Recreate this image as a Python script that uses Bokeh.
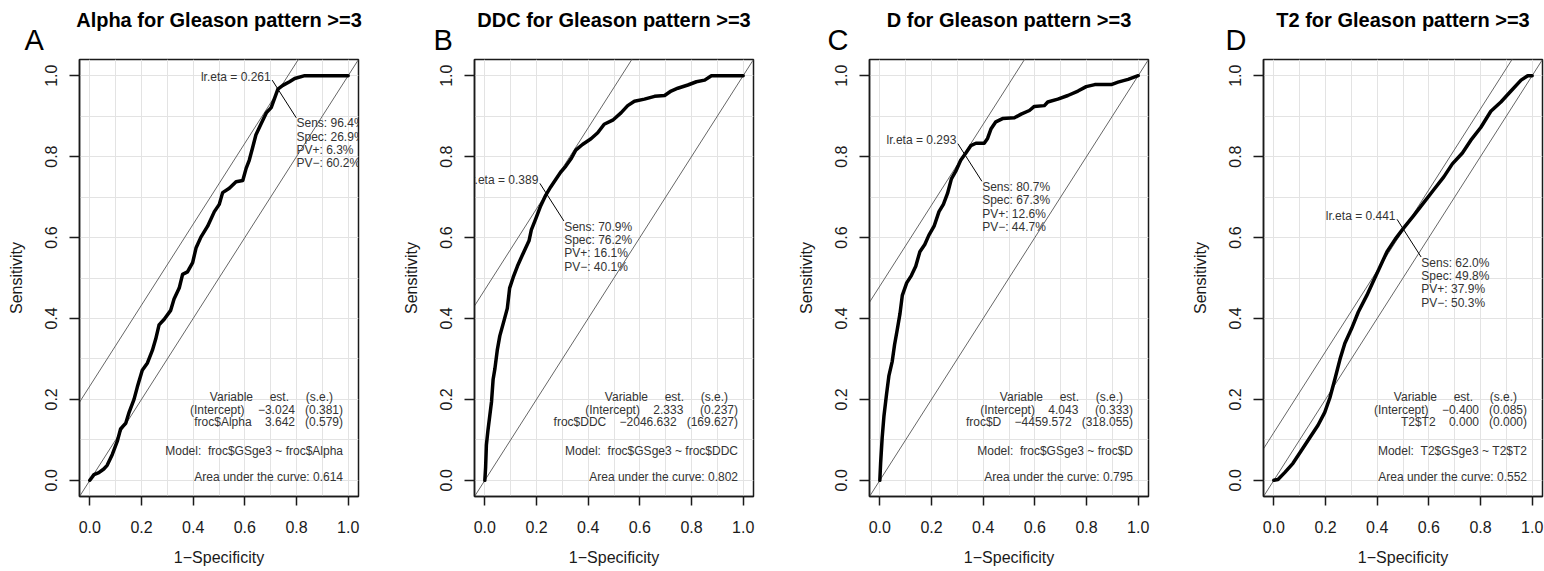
from bokeh.plotting import figure
from bokeh.layouts import row
from bokeh.models import Title, FixedTicker, NumeralTickFormatter
from bokeh.core.properties import value
from bokeh.embed import file_html
from bokeh.resources import INLINE

# ---------------- data ----------------
TITLES = ["Alpha for Gleason pattern >=3", "DDC for Gleason pattern >=3",
          "D for Gleason pattern >=3", "T2 for Gleason pattern >=3"]
LETTERS = ["A", "B", "C", "D"]

A_FPR = [0.0, 0.016, 0.035, 0.054, 0.067, 0.087, 0.106, 0.119, 0.139, 0.152, 0.171, 0.184,
         0.203, 0.223, 0.242, 0.255, 0.268, 0.288, 0.313, 0.326, 0.346, 0.359, 0.378, 0.398,
         0.411, 0.43, 0.456, 0.482, 0.501, 0.514, 0.54, 0.566, 0.592, 0.605, 0.617, 0.63,
         0.643, 0.663, 0.683, 0.702, 0.715, 0.728, 0.747, 0.773, 0.793, 0.832, 1.0]
A_TPR = [0.0, 0.014, 0.019, 0.028, 0.037, 0.064, 0.096, 0.127, 0.141, 0.168, 0.2, 0.231,
         0.272, 0.29, 0.321, 0.349, 0.384, 0.398, 0.42, 0.448, 0.475, 0.509, 0.515, 0.538,
         0.574, 0.601, 0.628, 0.664, 0.682, 0.711, 0.722, 0.738, 0.741, 0.771, 0.791, 0.822,
         0.854, 0.881, 0.908, 0.921, 0.944, 0.967, 0.976, 0.985, 0.993, 1.0, 1.0]

B_FPR = [0.0, 0.003, 0.006, 0.012, 0.019, 0.026, 0.032, 0.039, 0.048, 0.058, 0.074, 0.087,
         0.096, 0.11, 0.126, 0.145, 0.158, 0.171, 0.18, 0.197, 0.216, 0.236, 0.255, 0.275,
         0.294, 0.313, 0.333, 0.352, 0.378, 0.411, 0.437, 0.462, 0.495, 0.527, 0.553, 0.579,
         0.618, 0.657, 0.696, 0.721, 0.747, 0.786, 0.819, 0.851, 0.877, 1.0]
B_TPR = [0.0, 0.032, 0.087, 0.123, 0.159, 0.195, 0.249, 0.276, 0.321, 0.357, 0.394, 0.425,
         0.475, 0.502, 0.529, 0.556, 0.574, 0.592, 0.619, 0.646, 0.678, 0.705, 0.725, 0.744,
         0.762, 0.776, 0.794, 0.816, 0.83, 0.844, 0.859, 0.88, 0.89, 0.908, 0.926, 0.937,
         0.942, 0.949, 0.951, 0.962, 0.969, 0.977, 0.985, 0.989, 1.0, 1.0]

C_FPR = [0.0, 0.003, 0.009, 0.016, 0.026, 0.035, 0.048, 0.057, 0.067, 0.078, 0.087, 0.104,
         0.122, 0.139, 0.155, 0.174, 0.19, 0.21, 0.229, 0.246, 0.262, 0.277, 0.294, 0.313,
         0.333, 0.352, 0.372, 0.404, 0.417, 0.43, 0.449, 0.475, 0.521, 0.547, 0.579, 0.598,
         0.637, 0.65, 0.689, 0.728, 0.767, 0.799, 0.832, 0.896, 0.922, 0.961, 1.0]
C_TPR = [0.0, 0.042, 0.105, 0.159, 0.213, 0.258, 0.294, 0.335, 0.371, 0.412, 0.457, 0.488,
         0.506, 0.529, 0.565, 0.583, 0.606, 0.628, 0.664, 0.682, 0.709, 0.745, 0.764, 0.791,
         0.809, 0.827, 0.833, 0.833, 0.845, 0.868, 0.886, 0.894, 0.896, 0.905, 0.914, 0.924,
         0.926, 0.935, 0.942, 0.951, 0.962, 0.973, 0.978, 0.978, 0.984, 0.991, 1.0]

D_FPR = [0.0, 0.016, 0.042, 0.074, 0.106, 0.139, 0.171, 0.197, 0.217, 0.236, 0.256, 0.275,
         0.301, 0.327, 0.36, 0.386, 0.412, 0.438, 0.47, 0.503, 0.542, 0.581, 0.619, 0.658,
         0.691, 0.73, 0.762, 0.801, 0.84, 0.879, 0.918, 0.957, 0.983, 1.0]
D_TPR = [0.0, 0.002, 0.019, 0.042, 0.073, 0.105, 0.136, 0.168, 0.204, 0.249, 0.299, 0.339,
         0.375, 0.416, 0.457, 0.493, 0.529, 0.565, 0.596, 0.624, 0.655, 0.687, 0.718, 0.75,
         0.782, 0.809, 0.84, 0.872, 0.912, 0.935, 0.962, 0.989, 1.0, 1.0]

CURVES_FPR = [A_FPR, B_FPR, C_FPR, D_FPR]
CURVES_TPR = [A_TPR, B_TPR, C_TPR, D_TPR]

LR_ETA = ["0.261", "0.389", "0.293", "0.441"]
SENS = [96.4, 70.9, 80.7, 62.0]
SPEC = [26.9, 76.2, 67.3, 49.8]
PV_POS = [6.3, 16.1, 12.6, 37.9]
PV_NEG = [60.2, 40.1, 44.7, 50.3]

VAR_NAMES = ["froc$Alpha", "froc$DDC", "froc$D", "T2$T2"]
INTERCEPT_EST = ["\u22123.024", "2.333", "4.043", "\u22120.400"]
INTERCEPT_SE = ["0.381", "0.237", "0.333", "0.085"]
SLOPE_EST = ["3.642", "\u22122046.632", "\u22124459.572", "0.000"]
SLOPE_SE = ["0.579", "169.627", "318.055", "0.000"]
MODELS = ["froc$GSge3 ~ froc$Alpha", "froc$GSge3 ~ froc$DDC",
          "froc$GSge3 ~ froc$D", "T2$GSge3 ~ T2$T2"]
AUC = ["0.614", "0.802", "0.795", "0.552"]

TICKS = [0.0, 0.2, 0.4, 0.6, 0.8, 1.0]
GRID = [0.0, 0.1, 0.2, 0.3, 0.4, 0.5, 0.6, 0.7, 0.8, 0.9, 1.0]

# ---------------- layout / style ----------------
FONT = "Liberation Sans"
NB = "\u00a0"
X_LO, X_HI = -0.04, 1.04
WIDTHS = [395, 395, 394, 360]
RIGHT_BORDERS = [37, 37, 36, 2]
LETTER_OFFSETS = [-55, -41, -42, -38]
INK = "#1a1a1a"
SMALL_INK = "#333333"


def small_text(p, xs, ys, texts, align):
    p.text(x=xs, y=ys, text=texts, text_font=value(FONT), text_font_size="12px",
           text_align=align, text_baseline="middle", text_color=SMALL_INK)


def make_panel(i):
    p = figure(width=WIDTHS[i], height=571, x_range=(X_LO, X_HI), y_range=(X_LO, X_HI),
               output_backend="svg", toolbar_location=None, tools="", title=None,
               min_border_left=79, min_border_right=RIGHT_BORDERS[i],
               min_border_top=59, min_border_bottom=75)
    p.background_fill_color = "white"
    p.border_fill_color = "white"
    p.outline_line_color = INK
    p.outline_line_width = 1.5
    p.outline_line_alpha = 1.0

    for ax in (p.xaxis[0], p.yaxis[0]):
        ax.ticker = FixedTicker(ticks=TICKS)
        ax.formatter = NumeralTickFormatter(format="0.0")
        ax.major_tick_in = 0
        ax.major_tick_out = 9
        ax.minor_tick_line_color = None
        ax.major_tick_line_width = 1.5
        ax.major_tick_line_color = INK
        ax.axis_line_width = 1.5
        ax.axis_line_color = INK
        ax.major_label_text_font = FONT
        ax.major_label_text_font_size = "16px"
        ax.major_label_text_color = INK
        ax.axis_label_text_font = FONT
        ax.axis_label_text_font_size = "16px"
        ax.axis_label_text_font_style = "normal"
        ax.axis_label_text_color = INK
    p.yaxis.major_tick_out = 10
    p.xaxis.major_label_standoff = 15
    p.yaxis.major_label_standoff = 12
    p.yaxis.major_label_orientation = "vertical"
    p.xaxis.axis_label = "1\u2212Specificity"
    p.yaxis.axis_label = "Sensitivity"
    p.xaxis.axis_label_standoff = 13
    p.yaxis.axis_label_standoff = 18

    p.xgrid.ticker = FixedTicker(ticks=GRID)
    p.ygrid.ticker = FixedTicker(ticks=GRID)
    p.grid.grid_line_color = "#e3e3e3"
    p.grid.grid_line_width = 1

    # diagonal reference lines
    c = SENS[i] / 100 + SPEC[i] / 100 - 1
    p.line([X_LO, X_HI], [X_LO, X_HI], line_color="#666666", line_width=1)
    p.line([X_LO, X_HI], [X_LO + c, X_HI + c], line_color="#666666", line_width=1)

    # ROC curve
    p.line(CURVES_FPR[i], CURVES_TPR[i], line_color="black", line_width=3.5,
           line_join="round", line_cap="round")

    # optimal point annotation
    px = 1 - SPEC[i] / 100
    py = SENS[i] / 100
    p.line([px - 0.025, px + 0.068], [py + 0.025, py - 0.068], line_color="black", line_width=1)
    small_text(p, [px - 0.031], [py + 0.033], [f"lr.eta = {LR_ETA[i]}"], "right")
    lines = [f"Sens: {SENS[i]:.1f}%", f"Spec: {SPEC[i]:.1f}%",
             f"PV+: {PV_POS[i]:.1f}%", f"PV\u2212: {PV_NEG[i]:.1f}%"]
    small_text(p, [px + 0.069] * 4, [py - 0.082 - k * 0.033 for k in range(4)], lines, "left")

    # model table
    se_width = max(len(INTERCEPT_SE[i]), len(SLOPE_SE[i])) + 2
    se1 = ("(" + INTERCEPT_SE[i] + ")").rjust(se_width).replace(" ", NB)
    se2 = ("(" + SLOPE_SE[i] + ")").rjust(se_width).replace(" ", NB)
    header = "Variable" + NB * 5 + "est." + NB * 5 + "(s.e.)" + NB * 3
    row1 = "(Intercept)" + NB * 4 + INTERCEPT_EST[i] + NB * 3 + se1
    row2 = VAR_NAMES[i] + NB * 4 + SLOPE_EST[i] + NB * 3 + se2
    model = "Model:" + NB * 2 + MODELS[i].replace(" ", NB)
    area = f"Area under the curve: {AUC[i]}"
    small_text(p, [0.98] * 5, [0.206, 0.174, 0.143, 0.073, 0.008],
               [header, row1, row2, model, area], "right")

    # panel letter (closest to the frame) and title (above it)
    p.add_layout(Title(text=LETTERS[i], align="left", offset=LETTER_OFFSETS[i], standoff=7,
                       text_font=FONT, text_font_size="29px", text_font_style="normal",
                       text_color="black"), "above")
    p.add_layout(Title(text=TITLES[i], align="center", standoff=-24,
                       text_font=FONT, text_font_size="20px", text_font_style="bold",
                       text_color="black"), "above")
    return p


panels = [make_panel(i) for i in range(4)]
layout = row(*panels)
open("out.html", "w").write(file_html(layout, INLINE))
